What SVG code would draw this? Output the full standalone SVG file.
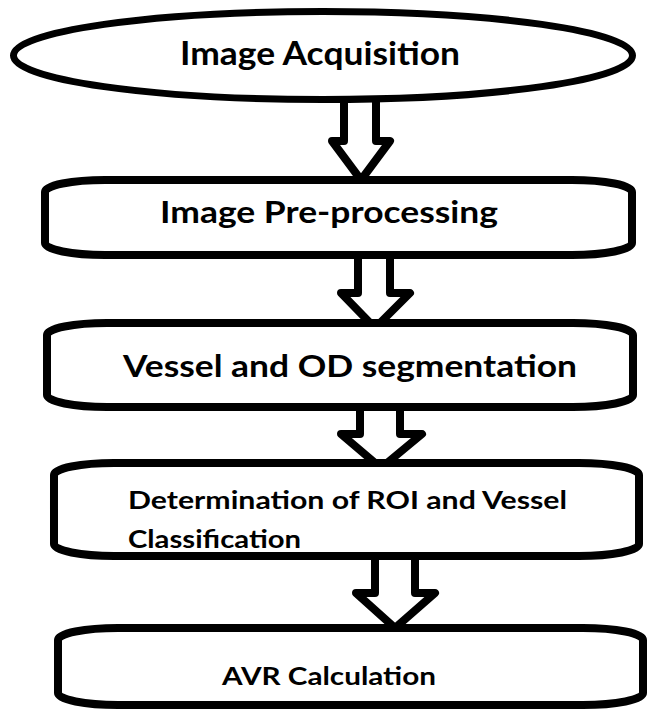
<svg xmlns="http://www.w3.org/2000/svg" width="650" height="713" viewBox="0 0 650 713">
  <style>
    .shape { fill: #ffffff; stroke: #000000; stroke-width: 8; }
    .oval { fill: #ffffff; stroke: #000000; stroke-width: 7; }
    .block { fill: #ffffff; stroke: #000000; stroke-width: 8; stroke-linejoin: round; }
    .label { font-family: Lato, "Open Sans", "Liberation Sans", sans-serif; font-weight: bold; fill: #000000; }
  </style>
  <rect width="650" height="713" fill="#ffffff"/>

  <!-- block arrows between the stages -->
  <g id="connectors">
    <polygon class="block" points="344,98 344,141 332,141 361,180 390,141 376,141 376,98"/>
    <polygon class="block" points="358,253 358,293 341,293 375,328 410,293 390,293 390,253"/>
    <polygon class="block" points="360,405 360,434 341,434 381,468 422,434 400,434 400,405"/>
    <polygon class="block" points="375,554 375,593 356,593 395,628 435,593 415,593 415,554"/>
  </g>

  <g id="image-acquisition">
    <ellipse class="oval" cx="323" cy="55.5" rx="309.5" ry="44"/>
    <text class="label" x="180" y="65" font-size="32" textLength="280" lengthAdjust="spacingAndGlyphs">Image Acquisition</text>
  </g>

  <g id="image-preprocessing">
    <rect class="shape" x="45" y="180" width="587" height="75" rx="60" ry="12"/>
    <text class="label" x="160" y="223" font-size="30" textLength="338" lengthAdjust="spacingAndGlyphs">Image Pre-processing</text>
  </g>

  <g id="vessel-od-segmentation">
    <rect class="shape" x="47" y="323" width="586" height="84" rx="60" ry="12"/>
    <text class="label" x="123" y="377" font-size="31" textLength="454" lengthAdjust="spacingAndGlyphs">Vessel and OD segmentation</text>
  </g>

  <g id="roi-vessel-classification">
    <rect class="shape" x="54" y="463" width="585" height="93" rx="60" ry="12"/>
    <text class="label" x="128" y="509" font-size="24.5" textLength="439" lengthAdjust="spacingAndGlyphs">Determination of ROI and Vessel</text>
    <text class="label" x="128" y="548" font-size="24.5" textLength="173" lengthAdjust="spacingAndGlyphs">Classification</text>
  </g>

  <g id="avr-calculation">
    <rect class="shape" x="58" y="628" width="585" height="77" rx="60" ry="12"/>
    <text class="label" x="222" y="685" font-size="25" textLength="214" lengthAdjust="spacingAndGlyphs">AVR Calculation</text>
  </g>
</svg>
